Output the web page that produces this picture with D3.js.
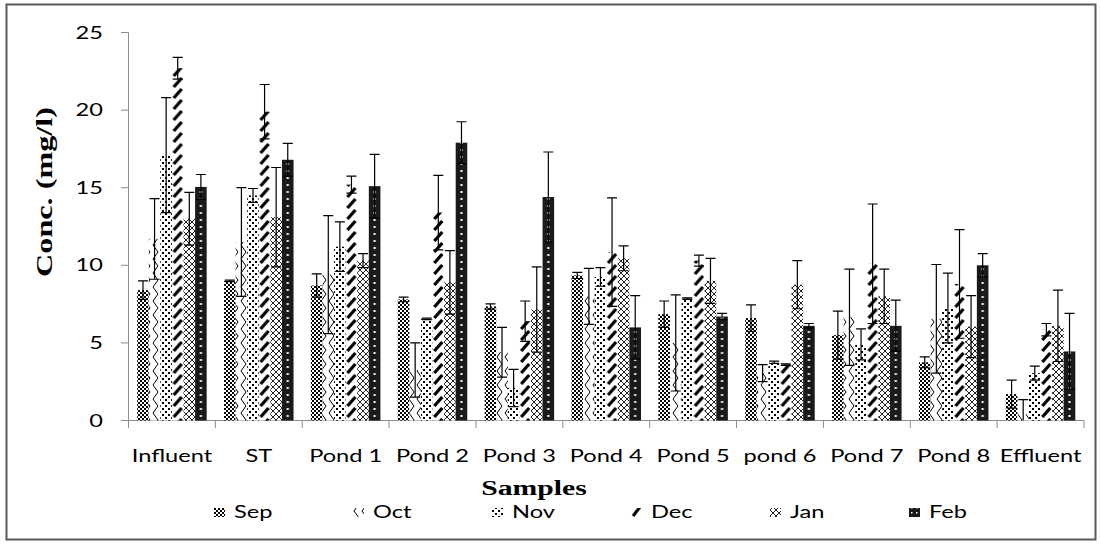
<!DOCTYPE html>
<html>
<head>
<meta charset="utf-8">
<script src="https://cdn.jsdelivr.net/npm/d3@7/dist/d3.min.js"></script>
<style>
  body { margin: 0; background: #fff; }
</style>
</head>
<body>
<script>
// ---- data ----
var categories = ["Influent", "ST", "Pond 1", "Pond 2", "Pond 3", "Pond 4", "Pond 5", "pond 6", "Pond 7", "Pond 8", "Effluent"];
var months = ["Sep", "Oct", "Nov", "Dec", "Jan", "Feb"];

var sepVals = [8.4, 9.0, 8.7, 7.8, 7.35, 9.35, 6.85, 6.6, 5.5, 3.75, 1.7];
var sepErr  = [0.6, 0.05, 0.75, 0.15, 0.17, 0.2, 0.85, 0.85, 1.55, 0.35, 0.9];
var octVals = [11.7, 11.5, 9.4, 3.25, 4.4, 8.0, 5.0, 3.05, 6.65, 6.55, 0.4];
var octErr  = [2.6, 3.5, 3.8, 1.75, 1.6, 1.8, 3.1, 0.55, 3.1, 3.5, 0.95];
var novVals = [17.1, 14.5, 11.2, 6.55, 2.1, 9.25, 7.85, 3.75, 4.9, 7.25, 3.05];
var novErr  = [3.7, 0.45, 1.6, 0.05, 1.2, 0.6, 0.05, 0.07, 1.0, 2.25, 0.45];
var decVals = [22.7, 19.9, 15.2, 13.4, 6.4, 10.85, 10.3, 3.6, 10.1, 8.8, 5.85];
var decErr  = [0.7, 1.75, 0.55, 2.4, 1.3, 3.5, 0.35, 0.05, 3.85, 3.5, 0.4];
var janVals = [13.0, 13.1, 10.3, 8.9, 7.15, 10.45, 9.0, 8.75, 8.0, 6.05, 6.1];
var janErr  = [1.7, 3.2, 0.45, 2.05, 2.75, 0.8, 1.45, 1.55, 1.75, 2.0, 2.3];
var febVals = [15.05, 16.8, 15.1, 17.9, 14.4, 6.0, 6.7, 6.1, 6.1, 10.0, 4.45];
var febErr  = [0.8, 1.05, 2.05, 1.35, 2.9, 2.05, 0.2, 0.15, 1.65, 0.75, 2.45];

var yTicks = [0, 5, 10, 15, 20, 25];

var seriesVals = [sepVals, octVals, novVals, decVals, janVals, febVals];
var seriesErr  = [sepErr, octErr, novErr, decErr, janErr, febErr];

// ---- layout ----
var width = 1101, height = 544;
var sx = 1.35;   // the original picture is stretched sideways, so text is too
var sans = "Lato, 'Open Sans', sans-serif";
var serif = "'Liberation Serif', 'Times New Roman', serif";

var svg = d3.select("body").append("svg")
    .attr("width", width)
    .attr("height", height);
var defs = svg.append("defs");

var x0 = d3.scaleBand().domain(categories).range([128.5, 1084]);
var x1 = d3.scaleBand().domain(months).range([0, x0.bandwidth()]).paddingOuter(0.75);
var y = d3.scaleLinear().domain([0, 25]).range([420.5, 32.5]);

// frame
svg.append("rect")
    .attr("x", 6.5).attr("y", 4.5)
    .attr("width", 1089).attr("height", 535)
    .attr("fill", "none")
    .attr("stroke", "#595959")
    .attr("stroke-width", 2);

// ---- pattern fills (Excel style) ----
function pat(id, w, h) {
  return defs.append("pattern")
      .attr("id", id)
      .attr("patternUnits", "userSpaceOnUse")
      .attr("width", w).attr("height", h);
}

// Sep: checker board
var pSep = pat("p-Sep", 4, 4);
pSep.append("rect").attr("width", 4).attr("height", 4).attr("fill", "#fff");
pSep.append("rect").attr("width", 2).attr("height", 2).attr("fill", "#000");
pSep.append("rect").attr("x", 2).attr("y", 2).attr("width", 2).attr("height", 2).attr("fill", "#000");

// Oct: zig zag
var pOct = pat("p-Oct", 8, 14);
pOct.append("rect").attr("width", 8).attr("height", 14).attr("fill", "#fff");
pOct.append("path").attr("d", "M6,0 L1,7 L6,14")
    .attr("fill", "none").attr("stroke", "#000").attr("stroke-width", 1);

// Nov: confetti squares
var pNov = pat("p-Nov", 6, 6);
pNov.append("rect").attr("width", 6).attr("height", 6).attr("fill", "#fff");
pNov.append("rect").attr("width", 2).attr("height", 2).attr("fill", "#000");
pNov.append("rect").attr("x", 3).attr("y", 3).attr("width", 2).attr("height", 2).attr("fill", "#000");

// Dec: bold slashes, one column centred in every Dec bar
var decCx = x1("Dec") + x1.bandwidth() / 2;
var pDec = pat("p-Dec", x0.step(), 11).attr("x", x0.range()[0]);
pDec.append("rect").attr("width", x0.step()).attr("height", 11).attr("fill", "#fff");
pDec.append("path").attr("d", "M" + (decCx - 4) + ",10 L" + (decCx + 4) + ",1")
    .attr("stroke", "#000").attr("stroke-width", 3.2);

// Jan: thin trellis
var pJan = pat("p-Jan", 6, 6);
pJan.append("rect").attr("width", 6).attr("height", 6).attr("fill", "#fff");
d3.range(6).forEach(function(i) {
  pJan.append("rect").attr("x", i).attr("y", i).attr("width", 1).attr("height", 1).attr("fill", "#222");
  pJan.append("rect").attr("x", 5 - i).attr("y", i).attr("width", 1).attr("height", 1).attr("fill", "#222");
});

// Feb: black with a column of white dots, lined up with the Feb bars
var pFeb = pat("p-Feb", x0.step(), 7).attr("x", x0.range()[0]);
pFeb.append("rect").attr("width", x0.step()).attr("height", 7).attr("fill", "#1a1a1a");
pFeb.append("rect")
    .attr("x", x1("Feb") + x1.bandwidth() / 2 - 1)
    .attr("y", 2).attr("width", 2).attr("height", 2)
    .attr("fill", "#fff");

// legend swatch versions of the aligned patterns
var pDecL = pat("p-Dec-leg", 11, 11);
pDecL.append("rect").attr("width", 11).attr("height", 11).attr("fill", "#fff");
pDecL.append("path").attr("d", "M2,10 L9,1").attr("stroke", "#000").attr("stroke-width", 3);
var pFebL = pat("p-Feb-leg", 5, 5);
pFebL.append("rect").attr("width", 5).attr("height", 5).attr("fill", "#1a1a1a");
pFebL.append("rect").attr("x", 2).attr("y", 2).attr("width", 1.5).attr("height", 1.5).attr("fill", "#fff");

// ---- axes ----
var axisColor = "#8c8c8c";

svg.append("line")
    .attr("x1", 128.5).attr("x2", 128.5)
    .attr("y1", y(25)).attr("y2", y(0))
    .attr("stroke", axisColor);

svg.selectAll("line.ytick")
    .data(yTicks)
  .enter().append("line")
    .attr("class", "ytick")
    .attr("x1", 121).attr("x2", 128.5)
    .attr("y1", function(d) { return y(d); })
    .attr("y2", function(d) { return y(d); })
    .attr("stroke", axisColor);

svg.selectAll("text.ylab")
    .data(yTicks)
  .enter().append("text")
    .attr("class", "ylab")
    .attr("text-anchor", "end")
    .attr("transform", function(d) {
      return "translate(103," + (y(d) + 6) + ") scale(" + sx + ",1)";
    })
    .style("font-family", sans)
    .style("font-size", "17.5px")
    .attr("fill", "#000")
    .text(function(d) { return d; });

svg.append("line")
    .attr("x1", 128.5).attr("x2", x0.range()[1])
    .attr("y1", y(0)).attr("y2", y(0))
    .attr("stroke", axisColor);

var bounds = categories.map(function(c) { return x0(c); }).concat([x0.range()[1]]);
svg.selectAll("line.xtick")
    .data(bounds)
  .enter().append("line")
    .attr("class", "xtick")
    .attr("x1", function(d) { return d; })
    .attr("x2", function(d) { return d; })
    .attr("y1", y(0)).attr("y2", y(0) + 7.5)
    .attr("stroke", axisColor);

svg.selectAll("text.xlab")
    .data(categories)
  .enter().append("text")
    .attr("class", "xlab")
    .attr("text-anchor", "middle")
    .attr("transform", function(d) {
      return "translate(" + (x0(d) + x0.bandwidth() / 2) + ",462) scale(" + sx + ",1)";
    })
    .style("font-family", sans)
    .style("font-size", "17.5px")
    .attr("fill", "#000")
    .text(function(d) { return d; });

// axis titles
svg.append("text")
    .attr("text-anchor", "middle")
    .attr("transform", "translate(534,495) scale(" + sx + ",1)")
    .style("font-family", serif)
    .style("font-size", "22px")
    .style("font-weight", "bold")
    .text("Samples");

svg.append("text")
    .attr("text-anchor", "middle")
    .attr("transform", "translate(52,192) rotate(-90) scale(1.4,1)")
    .style("font-family", serif)
    .style("font-size", "23px")
    .style("font-weight", "bold")
    .text("Conc. (mg/l)");

// ---- bars ----
var groups = svg.selectAll("g.series")
    .data(months)
  .enter().append("g")
    .attr("class", "series")
    .attr("fill", function(m) { return "url(#p-" + m + ")"; });

groups.selectAll("rect")
    .data(function(m, i) {
      return categories.map(function(c, j) {
        return {cat: c, month: m, v: seriesVals[i][j], e: seriesErr[i][j]};
      });
    })
  .enter().append("rect")
    .attr("x", function(d) { return x0(d.cat) + x1(d.month); })
    .attr("y", function(d) { return y(d.v); })
    .attr("width", x1.bandwidth())
    .attr("height", function(d) { return y(0) - y(d.v); });

// ---- error bars (+/-) ----
var capW = 10;
var errs = [];
months.forEach(function(m, i) {
  categories.forEach(function(c, j) {
    errs.push({cat: c, month: m, v: seriesVals[i][j], e: seriesErr[i][j]});
  });
});

var eb = svg.append("g")
    .attr("stroke", "#000")
    .attr("stroke-width", 1.2)
    .attr("fill", "none");

eb.selectAll("path")
    .data(errs)
  .enter().append("path")
    .attr("d", function(d) {
      var cx = x0(d.cat) + x1(d.month) + x1.bandwidth() / 2;
      var top = y(d.v + d.e);
      var lo = d.v - d.e;
      var bot = y(Math.max(0, lo));
      var p = "M" + cx + "," + top + "V" + bot;
      p += "M" + (cx - capW / 2) + "," + top + "H" + (cx + capW / 2);
      if (lo > 0) p += "M" + (cx - capW / 2) + "," + bot + "H" + (cx + capW / 2);
      return p;
    });

// ---- legend ----
var legend = svg.selectAll("g.legend")
    .data(months)
  .enter().append("g")
    .attr("class", "legend")
    .attr("transform", function(d, i) { return "translate(" + (214 + 139 * i) + ",0)"; });

legend.append("rect")
    .attr("x", 0).attr("y", 508)
    .attr("width", 11).attr("height", 9)
    .attr("fill", function(m) {
      return (m === "Dec" || m === "Feb") ? "url(#p-" + m + "-leg)" : "url(#p-" + m + ")";
    });

legend.append("text")
    .attr("transform", "translate(20,518) scale(" + sx + ",1)")
    .style("font-family", sans)
    .style("font-size", "17.5px")
    .text(function(d) { return d; });
</script>
</body>
</html>
